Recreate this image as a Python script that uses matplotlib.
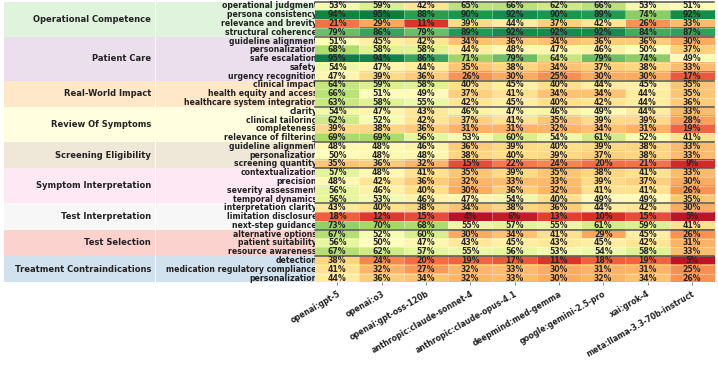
import numpy as np
import matplotlib.pyplot as plt
from matplotlib.patches import Rectangle

# models (columns)
models = ["openai:gpt-5", "openai:o3", "openai:gpt-oss-120b",
          "anthropic:claude-sonnet-4", "anthropic:claude-opus-4.1",
          "deepmind:med-gemma", "google:gemini-2.5-pro", "xai:grok-4",
          "meta:llama-3.3-70b-instruct"]

# evaluation categories and how many criteria each one has
categories = ["Operational Competence", "Patient Care", "Real-World Impact",
              "Review Of Symptoms", "Screening Eligibility", "Symptom Interpretation",
              "Test Interpretation", "Test Selection", "Treatment Contraindications"]
group_sizes = [4, 5, 3, 4, 3, 4, 3, 3, 3]
band_colors = ["#ccebc5", "#decbe4", "#fed9a6", "#ffffcc", "#e5d8bd",
               "#fddaec", "#f2f2f2", "#fbb4ae", "#b3cde3"]

criteria = ["operational judgment", "persona consistency", "relevance and brevity",
            "structural coherence",
            "guideline alignment", "personalization", "safe escalation", "safety",
            "urgency recognition",
            "clinical impact", "health equity and access", "healthcare system integration",
            "clarity", "clinical tailoring", "completeness", "relevance of filtering",
            "guideline alignment", "personalization", "screening quantity",
            "contextualization", "precision", "severity assessment", "temporal dynamics",
            "interpretation clarity", "limitation disclosure", "next-step guidance",
            "alternative options", "patient suitability", "resource awareness",
            "detection", "medication regulatory compliance", "personalization"]

scores = np.array([
    [53, 59, 42, 65, 66, 62, 66, 53, 51],
    [94, 95, 88, 90, 92, 90, 89, 74, 92],
    [21, 29, 11, 39, 44, 37, 42, 26, 33],
    [79, 86, 79, 89, 92, 92, 92, 84, 87],
    [51, 45, 42, 34, 36, 34, 36, 36, 30],
    [68, 58, 58, 44, 48, 47, 46, 50, 37],
    [95, 94, 86, 71, 79, 64, 79, 74, 49],
    [54, 47, 44, 35, 38, 34, 37, 38, 33],
    [47, 39, 36, 26, 30, 25, 30, 30, 17],
    [64, 59, 58, 40, 45, 40, 44, 45, 35],
    [66, 51, 49, 37, 41, 34, 34, 44, 35],
    [63, 58, 55, 42, 45, 40, 42, 44, 36],
    [54, 47, 43, 46, 47, 46, 49, 44, 33],
    [62, 52, 42, 37, 41, 35, 39, 39, 28],
    [39, 38, 36, 31, 31, 32, 34, 31, 19],
    [69, 69, 56, 53, 60, 54, 61, 52, 41],
    [48, 48, 46, 36, 39, 40, 39, 38, 33],
    [50, 48, 48, 38, 40, 39, 37, 38, 33],
    [35, 36, 32, 15, 22, 24, 20, 21, 9],
    [57, 48, 41, 35, 39, 35, 38, 41, 33],
    [48, 42, 36, 32, 33, 33, 39, 37, 30],
    [56, 46, 40, 30, 36, 32, 41, 41, 26],
    [56, 53, 46, 47, 54, 40, 49, 49, 35],
    [43, 40, 38, 34, 38, 36, 44, 42, 30],
    [18, 12, 15, 4, 6, 13, 10, 15, 5],
    [73, 70, 68, 55, 57, 55, 61, 59, 41],
    [67, 52, 60, 30, 34, 41, 29, 45, 26],
    [56, 50, 47, 43, 45, 43, 45, 42, 31],
    [67, 62, 57, 55, 56, 53, 54, 58, 33],
    [38, 24, 20, 19, 17, 11, 18, 19, 5],
    [41, 32, 27, 32, 33, 30, 31, 31, 25],
    [44, 36, 34, 32, 33, 30, 32, 34, 26],
])

W, H = 718, 371
top_px, bot_px = 1.6, 282.4
n_rows, n_cols = scores.shape

fig = plt.figure(figsize=(W / 100, H / 100), dpi=100)

# label panel (drawn underneath the heatmap)
lab = fig.add_axes([4 / W, 1 - bot_px / H, (318 - 4) / W, (bot_px - top_px) / H])
lab.set_xlim(4, 318)
lab.set_ylim(n_rows, 0)
lab.axis("off")
lab.set_zorder(0)

start = 0
for cat, size, col in zip(categories, group_sizes, band_colors):
    lab.add_patch(Rectangle((4, start), 150.5, size, color=col, alpha=0.6, lw=0))
    lab.add_patch(Rectangle((156, start), 162, size, color=col, alpha=0.6, lw=0))
    lab.text(151, start + size / 2, cat, ha="right", va="center",
             fontsize=6, fontweight="bold", color="#222222")
    start += size

for i, name in enumerate(criteria):
    lab.text(317, i + 0.5, name, ha="right", va="center",
             fontsize=5.6, fontweight="bold", color="#222222")

# heatmap
ax = fig.add_axes([315 / W, 1 - bot_px / H, (714 - 315) / W, (bot_px - top_px) / H])
ax.set_zorder(1)
ax.imshow(scores, cmap="RdYlGn", vmin=0, vmax=100, aspect="auto",
          interpolation="nearest", extent=(0, n_cols, n_rows, 0))
ax.set_xlim(0, n_cols)
ax.set_ylim(n_rows, 0)

# faint cell borders
for j in range(1, n_cols):
    ax.axvline(j, color="white", lw=0.4, alpha=0.6)
for i in range(1, n_rows):
    ax.axhline(i, color="white", lw=0.4, alpha=0.6)

for i in range(n_rows):
    for j in range(n_cols):
        ax.text(j + 0.5, i + 0.5, f"{scores[i, j]}%", ha="center", va="center",
                fontsize=5.6, fontweight="bold", color="#262626")

bounds = np.concatenate([[0], np.cumsum(group_sizes)[:-1]])
for b in bounds:
    ax.axhline(b, color="#555555", lw=1.1, clip_on=False)

ax.set_xticks(np.arange(n_cols) + 0.5)
ax.set_xticklabels(models, rotation=30, ha="right", rotation_mode="anchor",
                   fontsize=5.6, fontweight="bold", color="#222222")
ax.tick_params(axis="x", length=2, width=0.5, pad=3, color="#555555")
ax.set_yticks([])
for s in ax.spines.values():
    s.set_visible(False)

fig.savefig("out.png", dpi=100)
